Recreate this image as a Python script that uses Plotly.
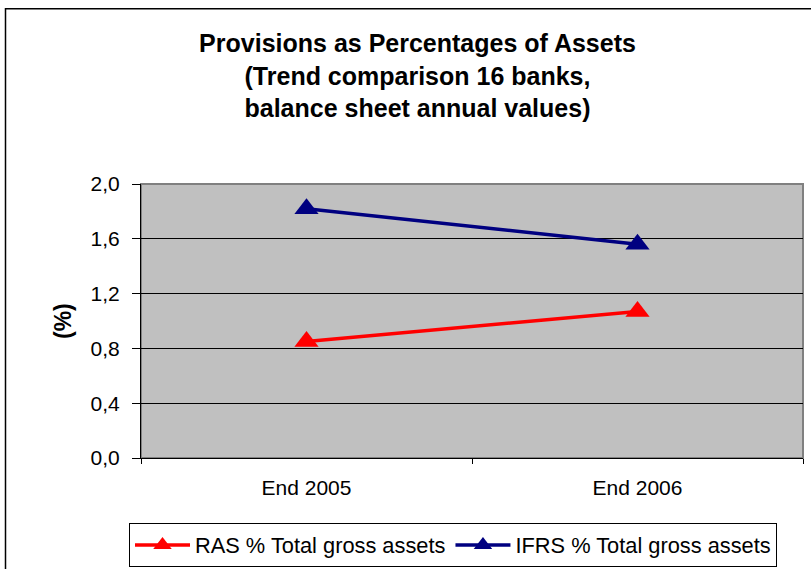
import plotly.graph_objects as go

categories = ["End 2005", "End 2006"]
ras_values = [0.85, 1.07]
ifrs_values = [1.82, 1.56]
ras_name = "RAS % Total gross assets"
ifrs_name = "IFRS % Total gross assets"
title_lines = ["Provisions as Percentages of Assets",
               "(Trend comparison 16 banks,",
               "balance sheet annual values)"]
y_title = "(%)"

W, H = 811, 569
L, R, T, B = 141, 803, 183.5, 458.5
pw, ph = R - L, B - T

def px(x):
    return (x - L) / pw

def py(y):
    return (B - y) / ph

FONT = "Liberation Sans, Arial, sans-serif"

fig = go.Figure()
fig.add_trace(go.Scatter(
    x=categories, y=ras_values, name=ras_name, mode="lines+markers",
    line=dict(color="#FF0000", width=3.5),
    marker=dict(symbol="triangle-up", size=21, color="#FF0000"),
))
fig.add_trace(go.Scatter(
    x=categories, y=ifrs_values, name=ifrs_name, mode="lines+markers",
    line=dict(color="#000080", width=3.5),
    marker=dict(symbol="triangle-up", size=21, color="#000080"),
))

fig.update_layout(
    width=W, height=H,
    margin=dict(l=L, r=W - R, t=T, b=H - B, pad=0, autoexpand=False),
    paper_bgcolor="white",
    plot_bgcolor="#C0C0C0",
    separators=",.",
    font=dict(family=FONT, size=21, color="black"),
    title=dict(
        text="<br>".join(title_lines),
        font=dict(family=FONT, size=25, color="black", weight="bold"),
        x=417.5 / W, xanchor="center", xref="container",
        y=1 - 52 / H, yanchor="top", yref="container",
    ),
    xaxis=dict(
        type="category", range=[-0.5, 1.5], automargin=False,
        showgrid=False, zeroline=False,
        showline=True, linecolor="black", linewidth=1,
        ticks="outside", tickson="boundaries", ticklen=5,
        tickcolor="black", tickwidth=1,
        tickfont=dict(size=21), ticklabelstandoff=11,
    ),
    yaxis=dict(
        range=[0, 2], dtick=0.4, tick0=0, tickformat=".1f", automargin=False,
        showgrid=True, gridcolor="black", gridwidth=1,
        zeroline=False,
        showline=True, linecolor="black", linewidth=1,
        ticks="outside", ticklen=8, tickcolor="black", tickwidth=1,
        tickfont=dict(size=21), ticklabelstandoff=8,
    ),
    showlegend=True,
    legend=dict(
        orientation="h",
        x=px(129), xanchor="left",
        y=py(524), yanchor="top",
        bgcolor="white", bordercolor="black", borderwidth=1,
        font=dict(size=21.8),
        itemwidth=55,
        tracegroupgap=0,
    ),
    annotations=[dict(
        text="<b>" + y_title + "</b>", textangle=-90,
        xref="paper", yref="paper", x=px(63), y=0.5,
        xanchor="center", yanchor="middle", showarrow=False,
        font=dict(family=FONT, size=23, color="black"),
    )],
    shapes=[
        dict(type="rect", xref="paper", yref="paper", x0=0, x1=1, y0=0, y1=1,
             line=dict(color="#808080", width=2), layer="between"),
        dict(type="rect", xref="paper", yref="paper",
             x0=px(5.5), x1=px(830), y0=py(600), y1=py(7.5),
             line=dict(color="black", width=1.5), layer="below"),
    ],
)

fig.write_html("out.html",
               config={"displayModeBar": False},
               post_script="document.body.style.margin='0';document.body.style.padding='0';")
